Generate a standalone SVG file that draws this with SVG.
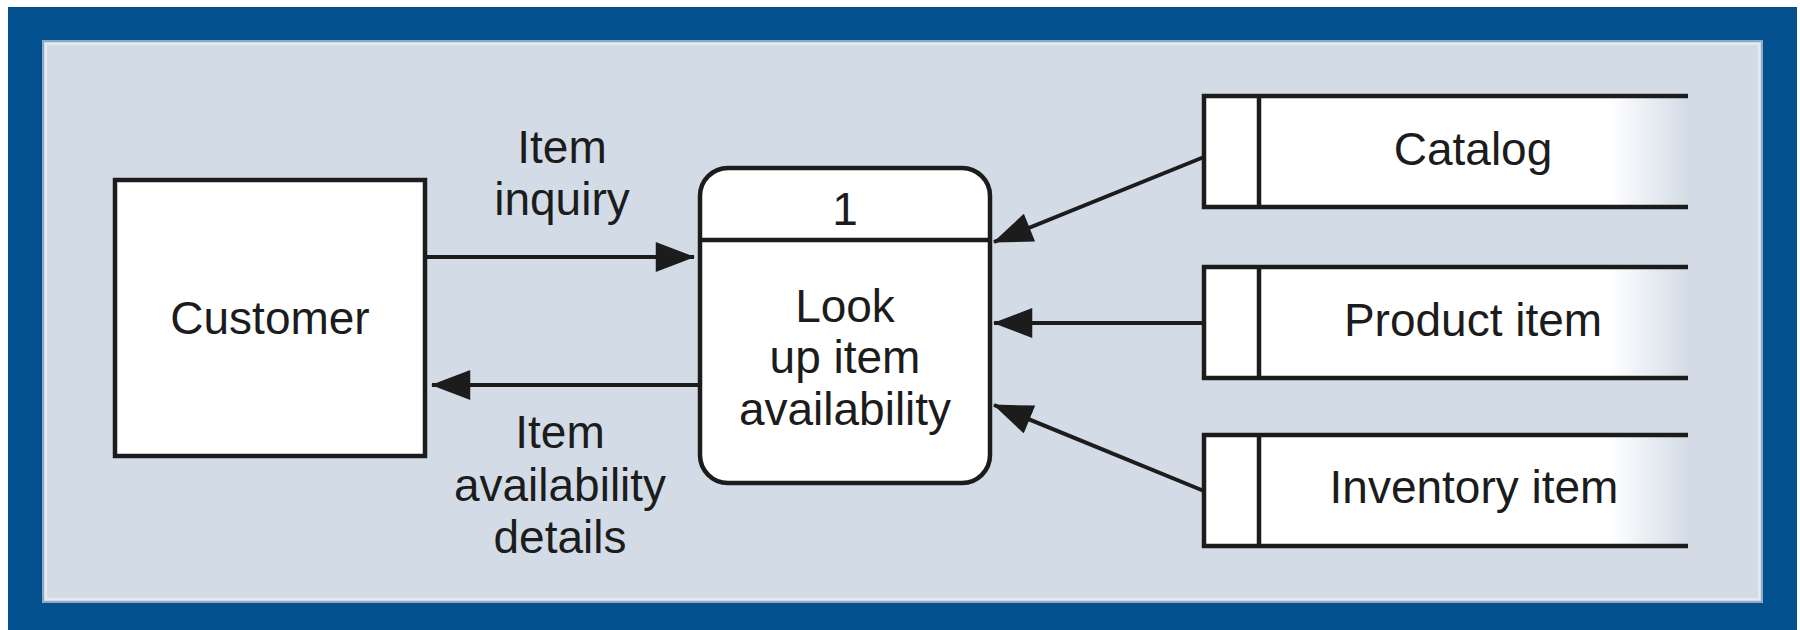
<svg xmlns="http://www.w3.org/2000/svg" width="1800" height="630" viewBox="0 0 1800 630">
  <style>
    .lbl { font-family: "Liberation Sans", Arial, sans-serif; font-size: 46px; fill: #1c1c1c; text-anchor: middle; }
    .box { fill: #ffffff; stroke: #1c1c1c; stroke-width: 4.5; }
    .ln { stroke: #1c1c1c; stroke-width: 4.5; fill: none; }
    .flow { stroke: #1c1c1c; stroke-width: 4; fill: none; marker-end: url(#arr); }
  </style>
  <defs>
    <marker id="arr" markerUnits="userSpaceOnUse" markerWidth="40" markerHeight="30" viewBox="0 0 38 29" refX="37" refY="14.5" orient="auto">
      <path d="M0,0 L38,14.5 L0,29 Z" fill="#1c1c1c"/>
    </marker>
    <linearGradient id="fade" gradientUnits="userSpaceOnUse" x1="1610" y1="0" x2="1688" y2="0">
      <stop offset="0" stop-color="#ffffff"/>
      <stop offset="1" stop-color="#d3dce6"/>
    </linearGradient>
  </defs>

  <rect x="0" y="0" width="1800" height="630" fill="#ffffff"/>
  <rect x="8" y="7" width="1789" height="630" fill="#02508d"/>
  <rect x="43" y="41" width="1719" height="561" fill="#d3dce6" stroke="#8fa8c6" stroke-width="2"/>
  <rect x="46" y="44" width="1713" height="555" fill="none" stroke="#e4eaf1" stroke-width="2"/>

  <g id="customer">
    <rect class="box" x="115" y="180" width="310" height="276"/>
    <text class="lbl" x="270" y="334">Customer</text>
  </g>

  <g id="process1">
    <rect class="box" x="700" y="168" width="290" height="315" rx="28" ry="28"/>
    <line class="ln" x1="700" y1="240" x2="990" y2="240"/>
    <text class="lbl" x="845" y="225">1</text>
    <text class="lbl" x="845" y="322">Look</text>
    <text class="lbl" x="845" y="373">up item</text>
    <text class="lbl" x="845" y="425">availability</text>
  </g>

  <g id="store-catalog">
    <rect x="1204" y="96" width="484" height="111" fill="url(#fade)"/>
    <path class="ln" d="M1688,96 H1204 V207 H1688 M1259,96 V207"/>
    <text class="lbl" x="1473" y="165">Catalog</text>
  </g>

  <g id="store-product">
    <rect x="1204" y="267" width="484" height="111" fill="url(#fade)"/>
    <path class="ln" d="M1688,267 H1204 V378 H1688 M1259,267 V378"/>
    <text class="lbl" x="1473" y="336">Product item</text>
  </g>

  <g id="store-inventory">
    <rect x="1204" y="435" width="484" height="111" fill="url(#fade)"/>
    <path class="ln" d="M1688,435 H1204 V546 H1688 M1259,435 V546"/>
    <text class="lbl" x="1474" y="503">Inventory item</text>
  </g>

  <g id="connectors">
    <line class="flow" x1="425" y1="257" x2="694" y2="257"/>
    <line class="flow" x1="700" y1="385" x2="432" y2="385"/>
    <line class="flow" x1="1204" y1="157" x2="994" y2="242"/>
    <line class="flow" x1="1204" y1="323" x2="994" y2="323"/>
    <line class="flow" x1="1204" y1="491" x2="994" y2="405"/>
    <text class="lbl" x="562" y="163">Item</text>
    <text class="lbl" x="562" y="215">inquiry</text>
    <text class="lbl" x="560" y="448">Item</text>
    <text class="lbl" x="560" y="501">availability</text>
    <text class="lbl" x="560" y="553">details</text>
  </g>
</svg>
